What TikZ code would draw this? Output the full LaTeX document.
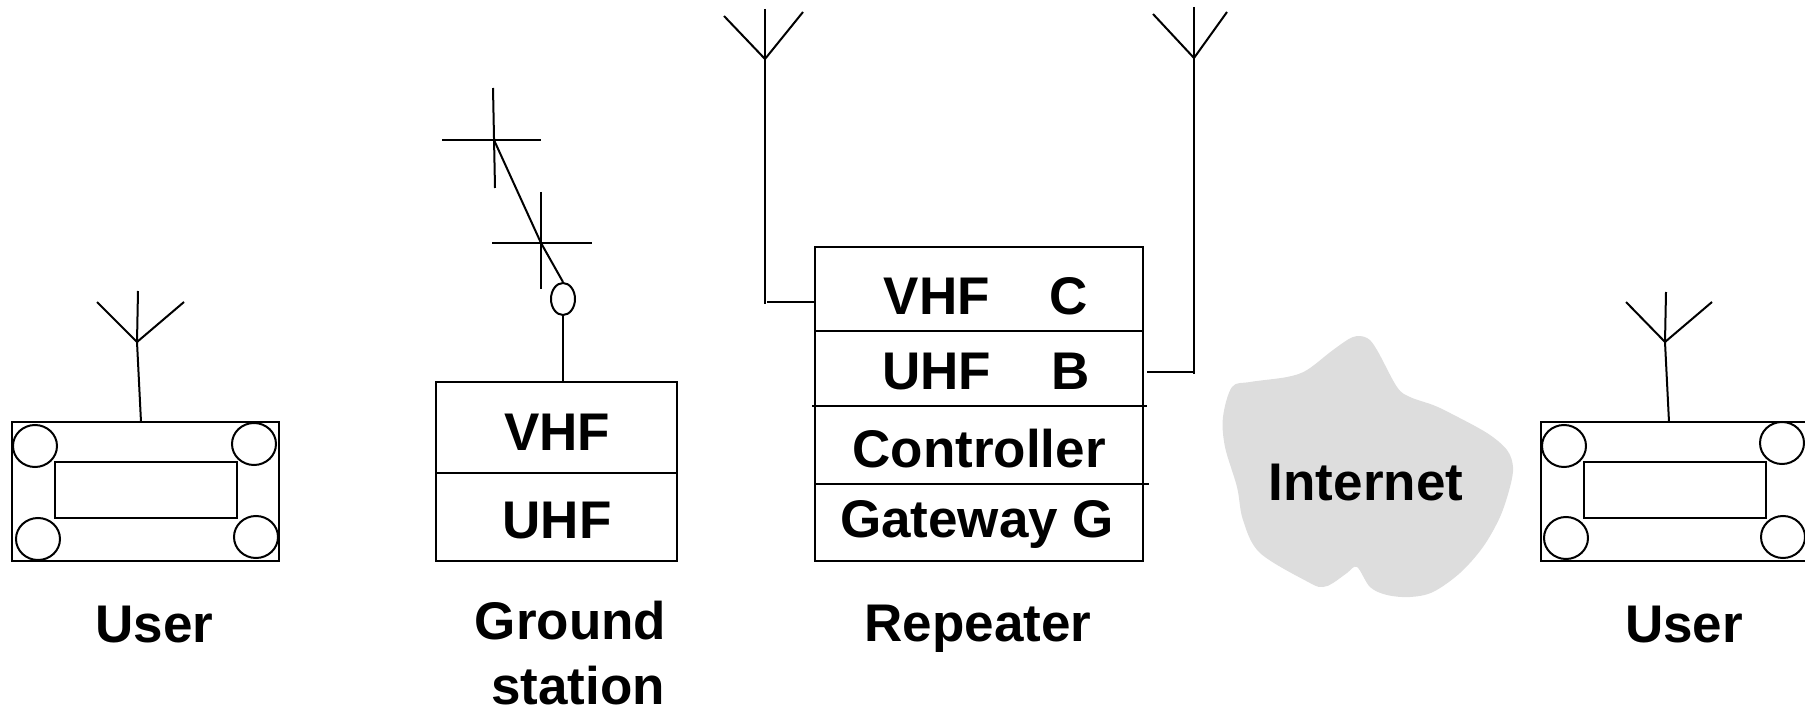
\documentclass[tikz,border=0pt]{standalone}
\usepackage{fontspec}
\setmainfont{Liberation Sans}
\usetikzlibrary{shapes.geometric}
\definecolor{cloudgray}{RGB}{221,221,221}
\begin{document}
\begin{tikzpicture}[x=1pt,y=-1pt,
  ln/.style={line width=2pt, line cap=butt},
  lbl/.style={font=\fontsize{53}{65}\selectfont\bfseries, inner sep=0pt, anchor=base},
  boxnode/.style={draw, line width=2pt, inner sep=0pt, outer sep=0pt},
  knob/.style={draw, line width=2pt, ellipse, minimum width=44pt, minimum height=42pt, inner sep=0pt},
]
\useasboundingbox (0,0) rectangle (1805,711);
\clip (0,0) rectangle (1805,711);

% ---------- left user device ----------
\node[boxnode, minimum width=267pt, minimum height=139pt] (u1) at (145.5,491.5) {};
\node[boxnode, minimum width=182pt, minimum height=56pt] (u1s) at (146,490) {};
\node[knob] (u1a) at (35,446) {};
\node[knob] (u1b) at (254,444) {};
\node[knob] (u1c) at (38,539) {};
\node[knob] (u1d) at (256,537) {};
\coordinate (u1j) at (137,342);
\coordinate (u1t) at (138,291);
\coordinate (u1l) at (97,302);
\coordinate (u1r) at (184,302);
\draw[ln] (u1.north -| 141,0) -- (u1j) -- (u1t);
\draw[ln] (u1l) -- (u1j) -- (u1r);
\node[lbl] (u1lab) at (154.5,642) {User};

% ---------- ground station ----------
\node[boxnode, minimum width=241pt, minimum height=179pt] (gs) at (556.5,471.5) {};
\draw[ln] (gs.west |- 0,473) -- (gs.east |- 0,473);
\node[lbl] (gsv) at (557,450) {VHF};
\node[lbl] (gsu) at (557,538) {UHF};
\node[draw, line width=2pt, ellipse, minimum width=24pt, minimum height=32pt, inner sep=0pt] (gse) at (563,299) {};
\draw[ln] (gse.south) -- (gs.north -| gse.south);
\coordinate (c1) at (494,140);
\coordinate (c2) at (541,243);
\draw[ln] (gse.north) -- (c2) -- (c1);
\draw[ln] (442,140) -- (541,140);
\draw[ln] (493,88) -- (495,188);
\draw[ln] (492,243) -- (592,243);
\draw[ln] (541,192) -- (541,289);
\node[lbl, align=center] (gslab) at (578,704) {Ground\hspace*{15pt}\\station};

% ---------- repeater ----------
\node[boxnode, minimum width=328pt, minimum height=314pt] (rp) at (979,404) {};
\draw[ln] (815,331) -- (1142,331);
\draw[ln] (812,406) -- (1147,406);
\draw[ln] (815,484) -- (1149,484);
\node[lbl] (rvhf) at (986,315) {VHF\hspace{60pt}C};
\node[lbl] (ruhf) at (986,389) {UHF\hspace{60pt}B};
\node[lbl] (rctl) at (979,467) {Controller};
\node[lbl] (rgw) at (977,537) {Gateway G};
\node[lbl] (rlab) at (978,641) {Repeater};
% left antenna (VHF)
\coordinate (a1j) at (765,59);
\coordinate (a1t) at (765,9);
\coordinate (a1b) at (765,304);
\draw[ln] (a1t) -- (a1b);
\draw[ln] (724,16) -- (a1j) -- (803,12);
\draw[ln] (767,302) -- (rp.west |- 0,302);
% right antenna (UHF)
\coordinate (a2j) at (1194,58);
\coordinate (a2t) at (1194,7);
\coordinate (a2b) at (1194,374);
\draw[ln] (a2t) -- (a2b);
\draw[ln] (1153,14) -- (a2j) -- (1227,12);
\draw[ln] (1147,372) -- (a2b |- 0,372);

% ---------- internet cloud ----------
\fill[cloudgray] plot[smooth cycle, tension=0.55] coordinates {
 (1232,387) (1250,382) (1287,377) (1307,370) (1333,350) (1353,337) (1367,338)
 (1377,350) (1397,387) (1410,397) (1433,405) (1450,413) (1487,433) (1507,450)
 (1513,467) (1510,487) (1500,517) (1483,547) (1460,573) (1433,592) (1410,597)
 (1387,595) (1370,587) (1357,567) (1347,573) (1333,583) (1323,587) (1310,583)
 (1260,553) (1243,520) (1237,487) (1225,447) (1223,417)};
\node[lbl] (inet) at (1366,500) {Internet};

% ---------- right user device ----------
\node[boxnode, minimum width=267pt, minimum height=139pt] (u2) at (1674.5,491.5) {};
\node[boxnode, minimum width=182pt, minimum height=56pt] (u2s) at (1675,490) {};
\node[knob] (u2a) at (1564,446) {};
\node[knob] (u2b) at (1782,443) {};
\node[knob] (u2c) at (1566,538) {};
\node[knob] (u2d) at (1783,537) {};
\coordinate (u2j) at (1665,342);
\coordinate (u2t) at (1666,292);
\coordinate (u2l) at (1626,302);
\coordinate (u2r) at (1712,302);
\draw[ln] (u2.north -| 1669,0) -- (u2j) -- (u2t);
\draw[ln] (u2l) -- (u2j) -- (u2r);
\node[lbl] (u2lab) at (1684,642) {User};
\end{tikzpicture}
\end{document}
